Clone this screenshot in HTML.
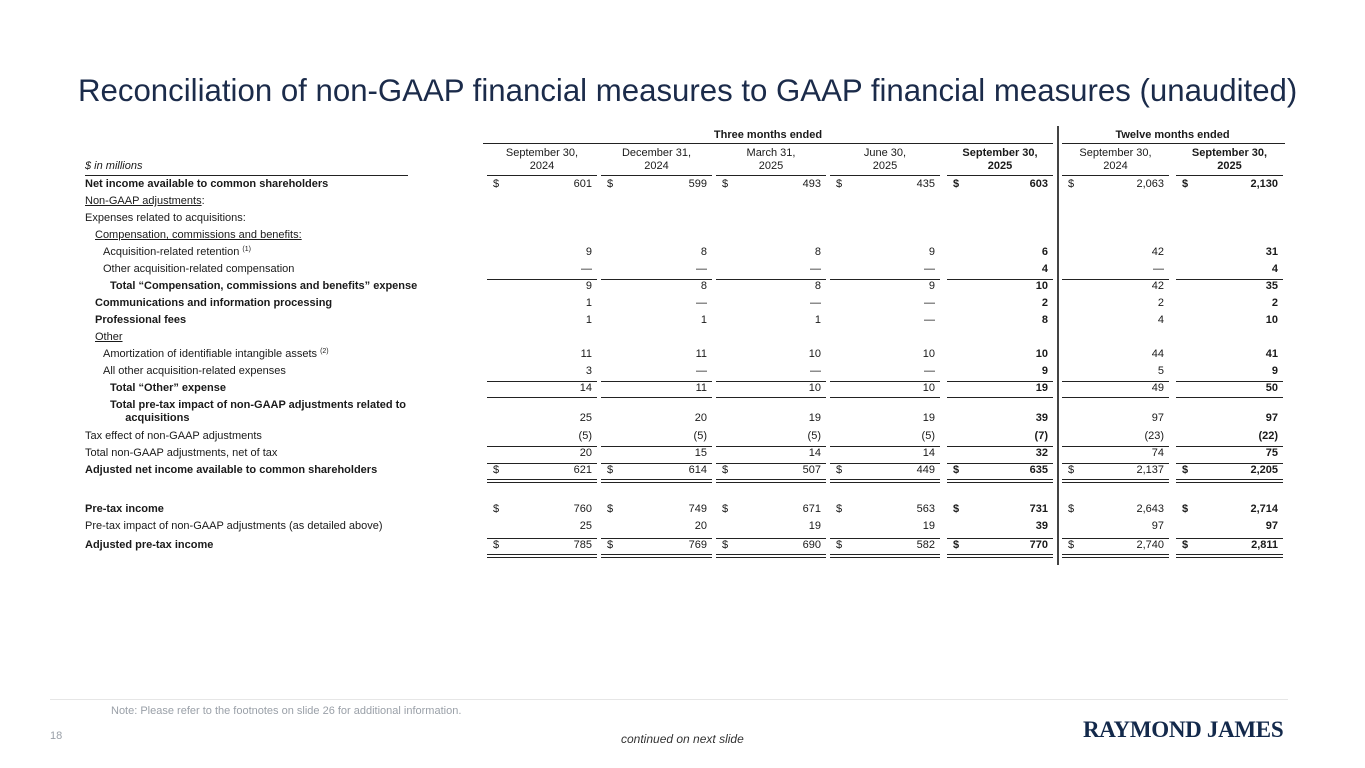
<!DOCTYPE html>
<html><head><meta charset="utf-8">
<style>
body{margin:0;width:1365px;height:768px;background:#fff;position:relative;overflow:hidden;font-family:"Liberation Sans",Arial,sans-serif;color:#1a1a1a}
.t{position:absolute;font-size:11px;white-space:nowrap;line-height:13px}
.b{font-weight:bold}
.u{text-decoration:underline}
.ln{position:absolute;height:0;border-top:1.5px solid #222}
.ln2{position:absolute;height:2px;border-top:1.5px solid #222;border-bottom:1.5px solid #222}
sup{font-size:7px;vertical-align:4px;line-height:0}
</style></head><body>
<div style="position:absolute;left:78px;top:73px;font-size:31.2px;color:#1b2b4a;white-space:nowrap">Reconciliation of non-GAAP financial measures to GAAP financial measures (unaudited)</div>
<div id="tbl"></div>
<div style="position:absolute;left:50px;top:699px;width:1238px;border-top:1px solid #e6e6e6"></div>
<div style="position:absolute;left:111px;top:705px;font-size:11px;color:#9aa0a8">Note: Please refer to the footnotes on slide 26 for additional information.</div>
<div style="position:absolute;left:50px;top:730px;font-size:11px;color:#9aa0a8">18</div>
<div style="position:absolute;left:621px;top:732px;font-size:12px;font-style:italic;color:#333">continued on next slide</div>
<div style="position:absolute;left:1083px;top:717px;font-family:'Liberation Serif',serif;font-weight:bold;font-size:23px;color:#13294b;letter-spacing:-0.3px">RAYMOND JAMES</div>
<script>
const colL=[487,601,716,830,947,1062,1176];
const colR=[597,712,826,940,1053,1169,1283];
const boldCol=[false,false,false,false,true,false,true];
const hdr1=["September 30,","December 31,","March 31,","June 30,","September 30,","September 30,","September 30,"];
const hdr2=["2024","2024","2025","2025","2025","2024","2025"];
const labels=["Net income available to common shareholders","Non-GAAP adjustments:","Expenses related to acquisitions:","Compensation, commissions and benefits:","Acquisition-related retention <sup>(1)</sup>","Other acquisition-related compensation","Total “Compensation, commissions and benefits” expense","Communications and information processing","Professional fees","Other","Amortization of identifiable intangible assets <sup>(2)</sup>","All other acquisition-related expenses","Total “Other” expense","TOTALPRE","Tax effect of non-GAAP adjustments","Total non-GAAP adjustments, net of tax","Adjusted net income available to common shareholders","Pre-tax income","Pre-tax impact of non-GAAP adjustments (as detailed above)","Adjusted pre-tax income"];
const rowY=[178,195,212,229,246,263,280,297,314,331,348,365,382,412,430,447,464,503,520,539];
const indent=[0,0,0,10,18,18,25,10,10,10,18,18,25,25,0,0,0,0,0,0];
const styles=["b","u1","","u","","","b","b","b","u","","","b","b","","","b","b","","b"];
const values=[
["601","599","493","435","603","2,063","2,130"],null,null,null,
["9","8","8","9","6","42","31"],
["—","—","—","—","4","—","4"],
["9","8","8","9","10","42","35"],
["1","—","—","—","2","2","2"],
["1","1","1","—","8","4","10"],null,
["11","11","10","10","10","44","41"],
["3","—","—","—","9","5","9"],
["14","11","10","10","19","49","50"],
["25","20","19","19","39","97","97"],
["(5)","(5)","(5)","(5)","(7)","(23)","(22)"],
["20","15","14","14","32","74","75"],
["621","614","507","449","635","2,137","2,205"],
["760","749","671","563","731","2,643","2,714"],
["25","20","19","19","39","97","97"],
["785","769","690","582","770","2,740","2,811"]];
const dollar=[1,0,0,0,0,0,0,0,0,0,0,0,0,0,0,0,1,1,0,1];
const lineAbove=[0,0,0,0,0,0,1,0,0,0,0,0,1,0,0,1,1,0,0,1];
const dbl=[0,0,0,0,0,0,0,0,0,0,0,0,0,0,0,0,1,0,0,1];
const tb=document.getElementById('tbl');
function add(html,cls,x,y,extra){const d=document.createElement('div');d.className='t '+cls;d.innerHTML=html;d.style.left=x+'px';d.style.top=y+'px';if(extra)Object.assign(d.style,extra);tb.appendChild(d);return d;}
function line(x1,x2,y,c){const d=document.createElement('div');d.className=c||'ln';d.style.left=x1+'px';d.style.top=y+'px';d.style.width=(x2-x1)+'px';tb.appendChild(d);return d;}
let g=add('Three months ended','b',483,129,{width:'570px',textAlign:'center'});


g=add('Twelve months ended','b',1062,129,{width:'221px',textAlign:'center'});


line(483,1053,143);line(1062,1285,143);
const dv=document.createElement('div');dv.style.cssText='position:absolute;left:1057px;top:126px;width:2px;height:439px;background:#444';tb.appendChild(dv);


g=add('$ in millions','',85,160,{fontStyle:'italic'});


line(85,408,175);
for(let c=0;c<7;c++){
 const h=add(hdr1[c]+'<br>'+hdr2[c],boldCol[c]?'b':'',colL[c],147,{width:(colR[c]-colL[c])+'px',textAlign:'center'});
 
 
 line(colL[c],colR[c],175);
}
for(let r=0;r<labels.length;r++){
 const y=rowY[r];const st=styles[r];
 let html=labels[r], cls=st==='b'?'b':'';
 if(st==='u') html='<span class="u">'+html+'</span>';
 if(st==='u1') html='<span class="u">Non-GAAP adjustments</span>:';
 let ly=y;
 if(html==='TOTALPRE'){html='Total pre-tax impact of non-GAAP adjustments related to<br>&nbsp;&nbsp;&nbsp;&nbsp;&nbsp;acquisitions';ly=y-13;}
 const l=add(html,cls,85+indent[r],ly);
 
 
 const v=values[r];
 if(lineAbove[r]){for(let c=0;c<7;c++)line(colL[c],colR[c],y-1);}
 if(r===12){for(let c=0;c<7;c++)line(colL[c],colR[c],y+15);}
 if(!v)continue;
 for(let c=0;c<7;c++){
  const vc=boldCol[c]?'b':'';
  const e=add(v[c],vc,colL[c],y,{width:(colR[c]-colL[c]-5)+'px',textAlign:'right'});
  
  
  if(dollar[r]){const d=add('$',vc,colL[c]+6,y);
   
   }
  if(dbl[r])line(colL[c],colR[c],y+15,'ln2');
 }
}
</script>
</body></html>
